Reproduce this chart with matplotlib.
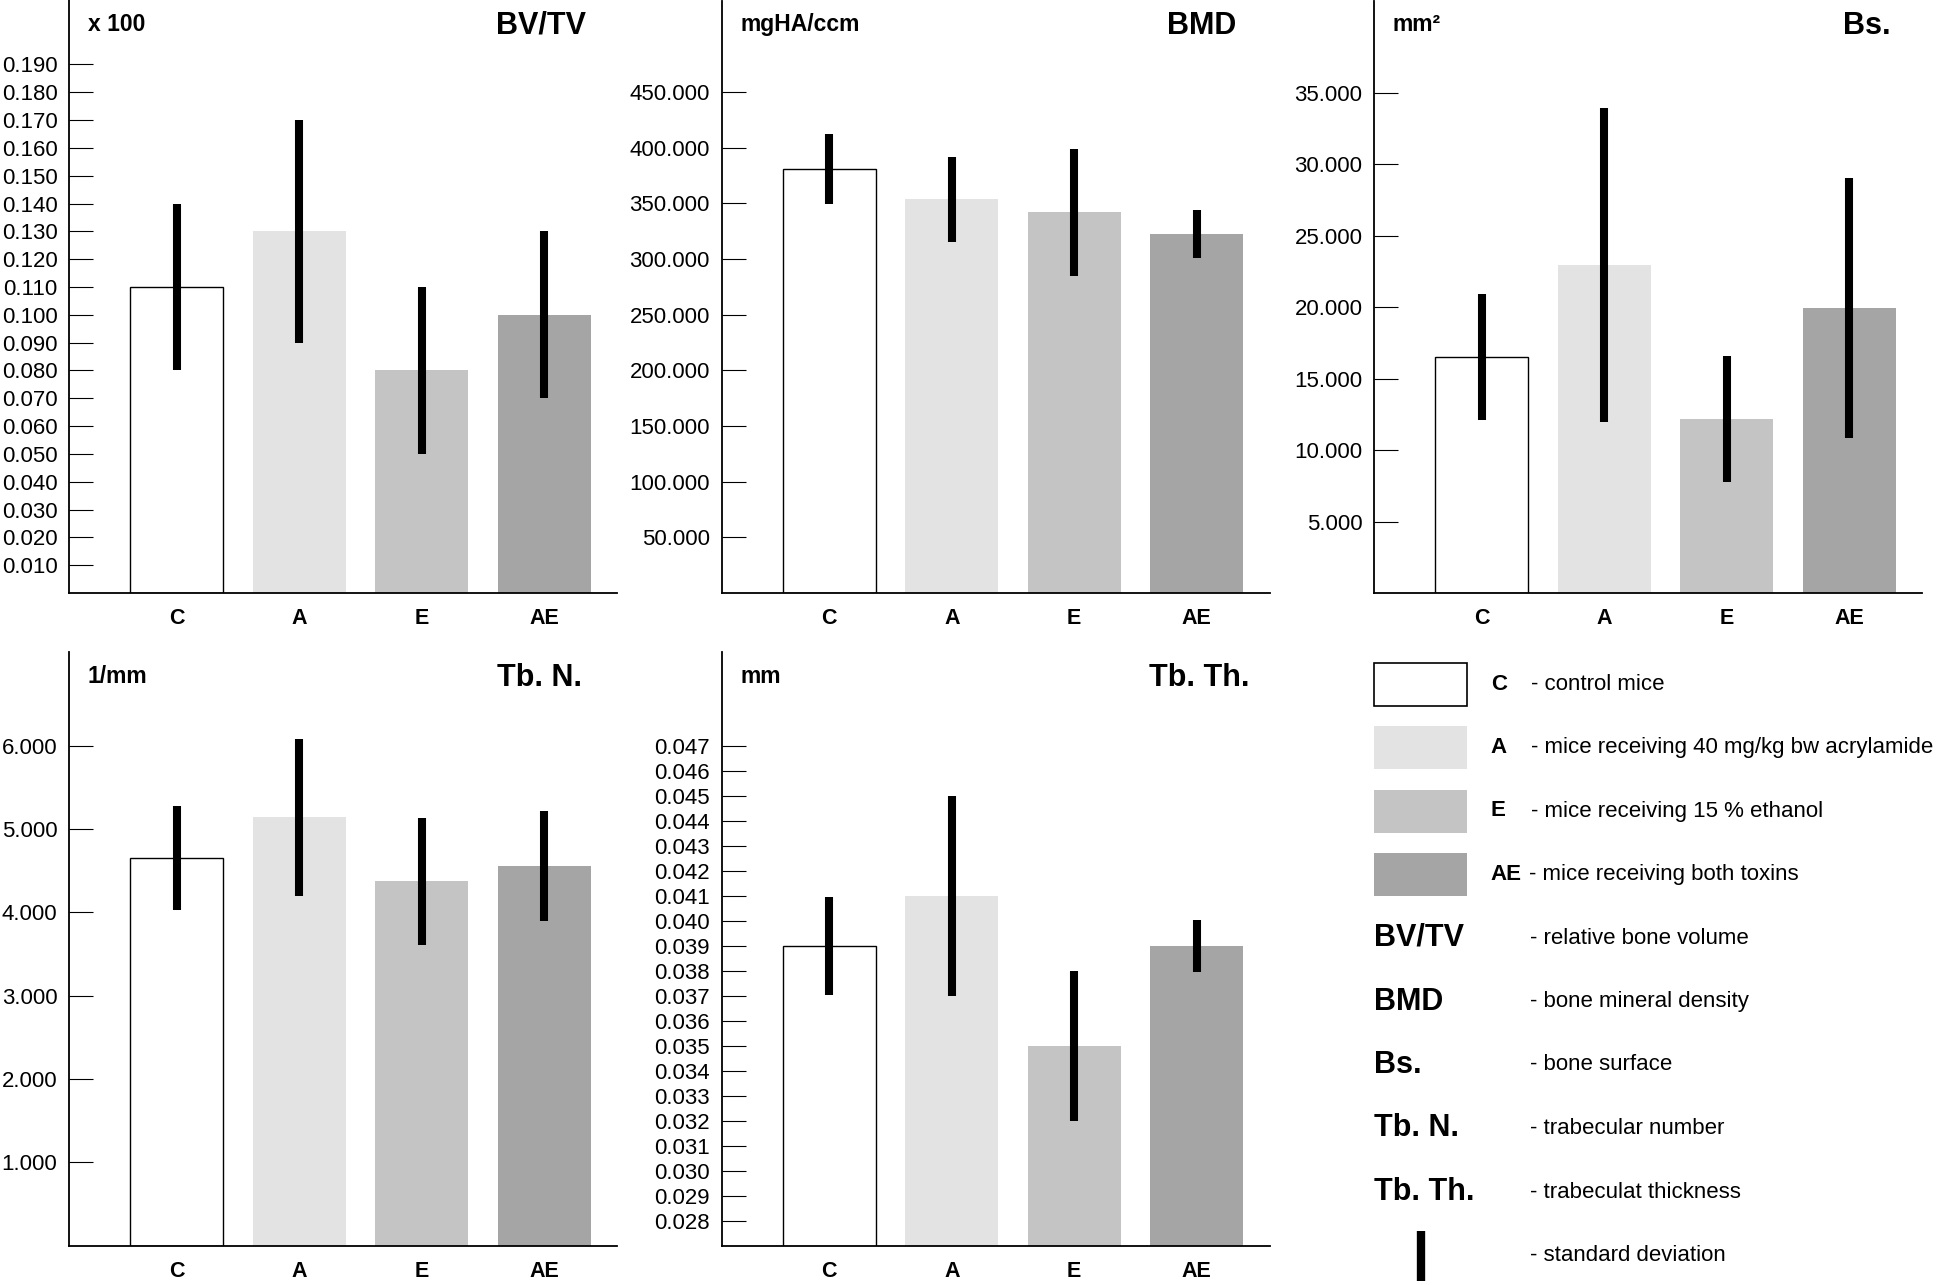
import numpy as np
import matplotlib
matplotlib.use('Agg')
import matplotlib.pyplot as plt
from matplotlib.patches import Rectangle

plt.rcParams['font.family'] = ['Liberation Sans', 'DejaVu Sans']

W, H = 1946, 1285

groups = ['C', 'A', 'E', 'AE']
bar_colors = ['white', '#e3e3e3', '#c4c4c4', '#a5a5a5']

# mean values and standard deviations
bvtv_mean = [0.110, 0.130, 0.080, 0.100]
bvtv_sd = [0.030, 0.040, 0.030, 0.030]
bmd_mean = [380.5, 353.5, 342.0, 322.5]
bmd_sd = [31.5, 38.0, 57.0, 21.7]
bs_mean = [16.5, 22.95, 12.2, 19.95]
bs_sd = [4.4, 11.0, 4.4, 9.1]
tbn_mean = [4.65, 5.14, 4.37, 4.56]
tbn_sd = [0.62, 0.94, 0.76, 0.66]
tbth_mean = [0.039, 0.041, 0.035, 0.039]
tbth_sd = [0.00195, 0.004, 0.003, 0.00105]

bvtv_ticks = [round(0.01 * i, 3) for i in range(1, 20)]
bmd_ticks = [50, 100, 150, 200, 250, 300, 350, 400, 450]
bs_ticks = [5, 10, 15, 20, 25, 30, 35]
tbn_ticks = [1, 2, 3, 4, 5, 6]
tbth_ticks = [round(0.001 * i, 3) for i in range(28, 48)]

legend_groups = ['- control mice', '- mice receiving 40 mg/kg bw acrylamide',
                 '- mice receiving 15 % ethanol', '- mice receiving both toxins']
legend_abbr = ['BV/TV', 'BMD', 'Bs.', 'Tb. N.', 'Tb. Th.']
legend_abbr_desc = ['- relative bone volume', '- bone mineral density', '- bone surface',
                    '- trabecular number', '- trabeculat thickness']

fig = plt.figure(figsize=(W / 100, H / 100), dpi=100)


def px_axes(left, top, width, height):
    return fig.add_axes([left / W, 1 - (top + height) / H, width / W, height / H])


def panel(ax, mean, sd, ticks, ylim, unit, title, title_x):
    x = np.arange(len(groups))
    ax.bar(x, mean, width=0.76, color=bar_colors,
           edgecolor=['black', 'none', 'none', 'none'], linewidth=1.0, zorder=2)
    ax.errorbar(x, mean, yerr=sd, fmt='none', ecolor='black', elinewidth=5.8,
                capsize=0, zorder=3)
    ax.set_xlim(-0.878, 3.596)
    ax.set_ylim(*ylim)
    ax.set_xticks(x)
    ax.set_xticklabels(groups, fontsize=15.5, fontweight='bold')
    ax.set_yticks(ticks)
    ax.set_yticklabels(['%.3f' % t for t in ticks], fontsize=16)
    ax.tick_params(axis='x', length=0, pad=11)
    ax.tick_params(axis='y', direction='in', length=17, width=0.8, pad=8.5)
    for s in ['top', 'right']:
        ax.spines[s].set_visible(False)
    for s in ['left', 'bottom']:
        ax.spines[s].set_linewidth(1.3)
    ax.text(0.034, 0.96, unit, transform=ax.transAxes, fontsize=16.5, fontweight='bold',
            ha='left', va='center')
    ax.text(title_x, 0.957, title, transform=ax.transAxes, fontsize=22, fontweight='bold',
            ha='right', va='center')


ax1 = px_axes(69.3, 0.5, 548, 592.5)
panel(ax1, bvtv_mean, bvtv_sd, bvtv_ticks, (0, 0.213), 'x 100', 'BV/TV', 0.943)
ax2 = px_axes(721.7, 0.5, 548, 592.5)
panel(ax2, bmd_mean, bmd_sd, bmd_ticks, (0, 532), 'mgHA/ccm', 'BMD', 0.9385)
ax3 = px_axes(1374.2, 0.5, 548, 592.5)
panel(ax3, bs_mean, bs_sd, bs_ticks, (0, 41.45), 'mm²', 'Bs.', 0.942)
ax4 = px_axes(69.3, 652.3, 548, 593.2)
panel(ax4, tbn_mean, tbn_sd, tbn_ticks, (0, 7.12), '1/mm', 'Tb. N.', 0.935)
ax5 = px_axes(721.7, 652.3, 548, 593.2)
panel(ax5, tbth_mean, tbth_sd, tbth_ticks, (0.02701, 0.05074), 'mm', 'Tb. Th.', 0.964)

# legend block drawn in pixel units
lax = fig.add_axes([1300 / W, 0, 646 / W, 645 / H])
lax.set_xlim(1300, 1946)
lax.set_ylim(1285, 640)
lax.axis('off')

row0 = 684.0
step = 63.5
for i, g in enumerate(groups):
    y = row0 + step * i
    lax.add_patch(Rectangle((1374, y - 21.5), 93.3, 43, facecolor=bar_colors[i],
                            edgecolor='black' if i == 0 else 'none', linewidth=1.2))
    lax.text(1490.7, y, g, fontsize=16, fontweight='bold', ha='left', va='center')
    lax.text(1531 if g != 'AE' else 1528.7, y, legend_groups[i], fontsize=16,
             ha='left', va='center')

for j, a in enumerate(legend_abbr):
    y = row0 + step * (4 + j)
    lax.text(1374.2, y, a, fontsize=22, fontweight='bold', ha='left', va='center')
    lax.text(1529.5, y, legend_abbr_desc[j], fontsize=16, ha='left', va='center')

y = row0 + step * 9
lax.plot([1420.7, 1420.7], [y - 25, y + 25.5], color='black', linewidth=6,
         solid_capstyle='butt')
lax.text(1529.5, y, '- standard deviation', fontsize=16, ha='left', va='center')

fig.savefig('out.png', dpi=100)
